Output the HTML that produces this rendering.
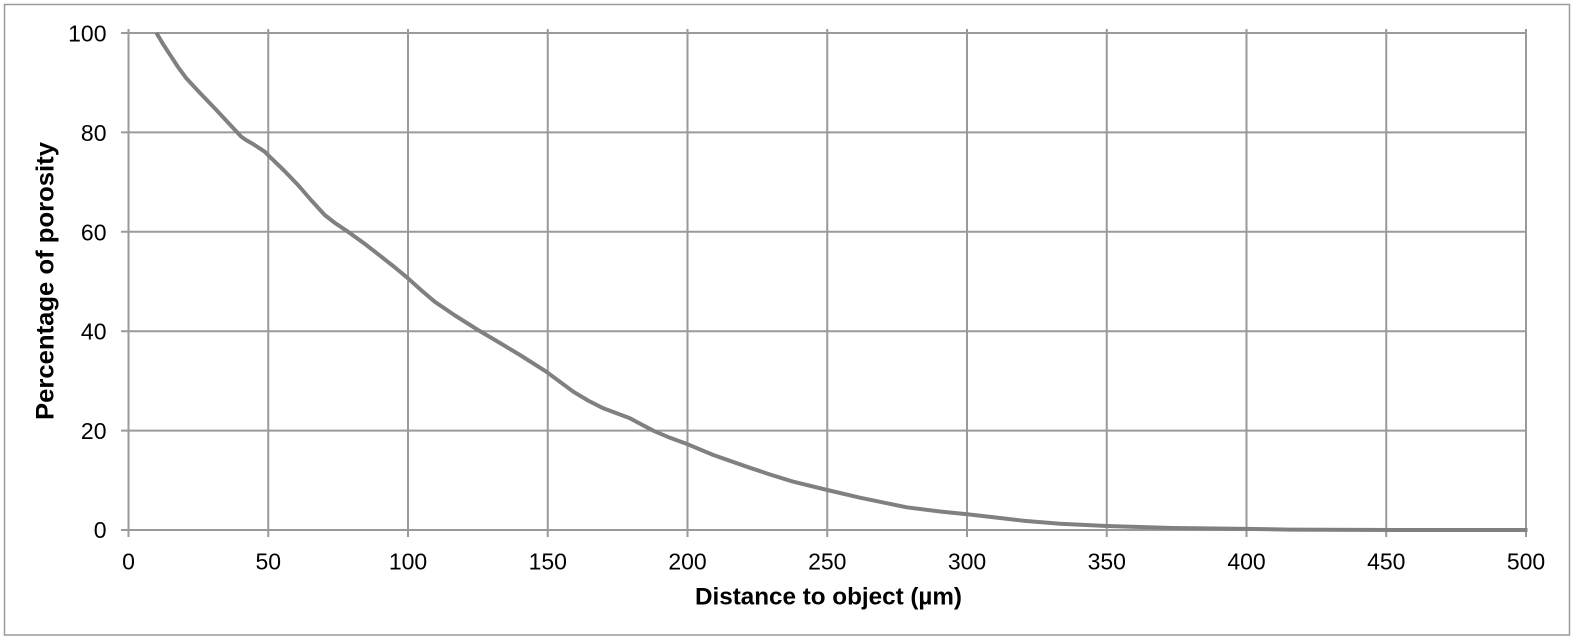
<!DOCTYPE html>
<html>
<head>
<meta charset="utf-8">
<style>
  html, body { margin: 0; padding: 0; background: #ffffff; }
  body { width: 1574px; height: 639px; overflow: hidden; }
  svg { display: block; }
  text { font-family: "Liberation Sans", Arial, Helvetica, sans-serif; fill: #000; }
</style>
</head>
<body>
<svg width="1574" height="639" viewBox="0 0 1574 639" xmlns="http://www.w3.org/2000/svg">
  <rect x="0" y="0" width="1574" height="639" fill="#ffffff"/>
  <!-- outer frame -->
  <rect x="4.5" y="4.5" width="1565" height="630.5" fill="none" stroke="#9a9a9a" stroke-width="1.5"/>

  <!-- horizontal gridlines -->
  <g stroke="#9a9a9a" stroke-width="2" fill="none">
    <line x1="121" y1="33" x2="1526" y2="33"/>
    <line x1="121" y1="132.4" x2="1526" y2="132.4"/>
    <line x1="121" y1="231.8" x2="1526" y2="231.8"/>
    <line x1="121" y1="331.2" x2="1526" y2="331.2"/>
    <line x1="121" y1="430.6" x2="1526" y2="430.6"/>
    <line x1="121" y1="530" x2="1526" y2="530"/>
  </g>
  <!-- vertical gridlines -->
  <g stroke="#9a9a9a" stroke-width="2" fill="none">
    <line x1="128.5" y1="29" x2="128.5" y2="537"/>
    <line x1="268.25" y1="29" x2="268.25" y2="537"/>
    <line x1="408" y1="29" x2="408" y2="537"/>
    <line x1="547.75" y1="29" x2="547.75" y2="537"/>
    <line x1="687.5" y1="29" x2="687.5" y2="537"/>
    <line x1="827.25" y1="29" x2="827.25" y2="537"/>
    <line x1="967" y1="29" x2="967" y2="537"/>
    <line x1="1106.75" y1="29" x2="1106.75" y2="537"/>
    <line x1="1246.5" y1="29" x2="1246.5" y2="537"/>
    <line x1="1386.25" y1="29" x2="1386.25" y2="537"/>
    <line x1="1526" y1="29" x2="1526" y2="537"/>
  </g>

  <!-- data curve -->
  <polyline fill="none" stroke="#808080" stroke-width="4" stroke-linejoin="round" stroke-linecap="butt"
    points="156.3,32.7 163,44 171.3,56.7 178,67 186.3,78.3 200,93 214.7,108.3 228,122.5 241.3,136.7 246,140 253,144 264.7,151.7 269.7,156.7 284,170.5 298,185 311,200 324.7,215 335,223 348,231.7 365,244 381.3,256.7 395,267.5 408,278.3 421,290 434.7,301.7 455,315.5 478,330 500,343 520,355 546.3,371.7 573.3,391.7 588,400.5 603.3,408.3 630,418.3 653.3,430.7 670,437.8 687.7,444.3 713.3,455 746.7,466.7 770,474.5 793.3,481.7 827.3,490 860,497.7 906.7,507.3 940,511.5 967.3,514.3 1000,518 1023.3,520.7 1060,523.8 1106.7,526 1173,528 1246,528.9 1290,529.6 1400,530 1527.5,530"/>

  <!-- y tick labels -->
  <g font-size="23" text-anchor="end">
    <text x="106.5" y="41.5">100</text>
    <text x="106.5" y="140.9">80</text>
    <text x="106.5" y="240.3">60</text>
    <text x="106.5" y="339.7">40</text>
    <text x="106.5" y="439.1">20</text>
    <text x="106.5" y="538">0</text>
  </g>

  <!-- x tick labels -->
  <g font-size="23" text-anchor="middle">
    <text x="128.5" y="569.3">0</text>
    <text x="268.25" y="569.3">50</text>
    <text x="408" y="569.3">100</text>
    <text x="547.75" y="569.3">150</text>
    <text x="687.5" y="569.3">200</text>
    <text x="827.25" y="569.3">250</text>
    <text x="967" y="569.3">300</text>
    <text x="1106.75" y="569.3">350</text>
    <text x="1246.5" y="569.3">400</text>
    <text x="1386.25" y="569.3">450</text>
    <text x="1526" y="569.3">500</text>
  </g>

  <!-- axis titles -->
  <text x="828.5" y="604.3" font-size="24" font-weight="bold" text-anchor="middle" textLength="267" lengthAdjust="spacingAndGlyphs">Distance to object (µm)</text>
  <text transform="translate(53.5,281) rotate(-90)" x="0" y="0" font-size="25" font-weight="bold" text-anchor="middle" textLength="278" lengthAdjust="spacingAndGlyphs">Percentage of porosity</text>
</svg>
</body>
</html>
